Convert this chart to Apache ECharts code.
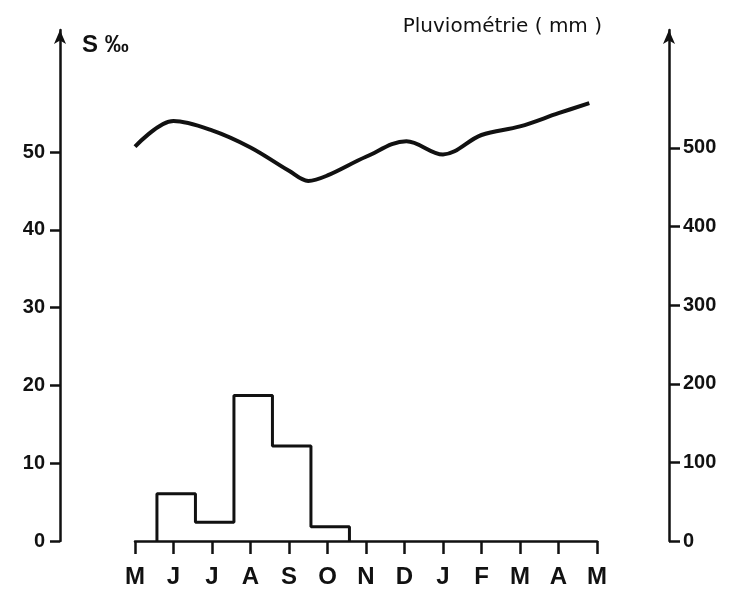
<!DOCTYPE html>
<html>
<head>
<meta charset="utf-8">
<script src="https://cdn.jsdelivr.net/npm/echarts@6/dist/echarts.min.js"></script>
<style>
  html, body { margin: 0; padding: 0; background: #fff; }
  #chart { width: 743px; height: 589px; }
</style>
</head>
<body>
<div id="chart"></div>
<script>
// month labels, one per tick (May -> May)
const months = ['M', 'J', 'J', 'A', 'S', 'O', 'N', 'D', 'J', 'F', 'M', 'A', 'M']

// salinity (S ‰), [month position, value]
const salinity = [
  [0, 50.7], [1, 54.0], [2, 52.8], [3, 50.6], [4, 47.6], [4.5, 46.3],
  [5, 47.0], [6, 49.4], [7.05, 51.4], [8, 49.7], [9, 52.2], [10, 53.3],
  [11, 55.0], [11.8, 56.3]
]

// monthly rainfall (mm), centred on the month ticks
const rainMonths = [1, 2, 3, 4, 5]
const rainValues = [60, 24, 185, 121, 18]

const leftTicks = [0, 10, 20, 30, 40, 50]
const rightTicks = [0, 100, 200, 300, 400, 500]

const INK = '#111'
const BAR_SHIFT = 0.07

// histogram outline built from the monthly totals
const rainOutline = []
rainMonths.forEach(function (m, i) {
  const c = m + BAR_SHIFT
  if (i === 0) rainOutline.push([c - 0.5, 0])
  rainOutline.push([c - 0.5, rainValues[i]])
  rainOutline.push([c + 0.5, rainValues[i]])
  if (i === rainMonths.length - 1) rainOutline.push([c + 0.5, 0])
})

const chart = echarts.init(document.getElementById('chart'), null, { renderer: 'canvas' })

const tickFont = {
  color: INK,
  fontFamily: 'Liberation Sans, Arial, sans-serif',
  fontWeight: 'bold',
  fontSize: 20
}

chart.setOption({
  animation: false,
  backgroundColor: '#fff',
  grid: { left: 135, right: 146, top: 30, bottom: 48 },
  xAxis: {
    type: 'value',
    min: 0,
    max: 12,
    interval: 1,
    splitLine: { show: false },
    axisLine: { lineStyle: { color: INK, width: 2.5 } },
    axisTick: { length: 13, lineStyle: { color: INK, width: 2.5 } },
    axisLabel: {
      margin: 24,
      color: INK,
      fontFamily: 'Liberation Sans, Arial, sans-serif',
      fontWeight: 'bold',
      fontSize: 24,
      formatter: function (v) { return months[v] }
    }
  },
  yAxis: [{
    type: 'value',
    position: 'left',
    offset: 75,
    min: 0,
    max: 65.7,
    splitLine: { show: false },
    name: 'S ‰',
    nameLocation: 'end',
    nameGap: -15,
    nameTextStyle: {
      color: INK, fontFamily: 'Liberation Sans, Arial, sans-serif', fontWeight: 'bold',
      fontSize: 24, align: 'left', verticalAlign: 'middle', padding: [0, 0, 0, 22]
    },
    axisLine: {
      show: true, onZero: false, symbol: ['none', 'arrow'], symbolSize: [9, 14],
      lineStyle: { color: INK, width: 2.5 }
    },
    axisTick: { show: true, length: 10, customValues: leftTicks, lineStyle: { color: INK, width: 2.5 } },
    axisLabel: Object.assign({ margin: 15, customValues: leftTicks }, tickFont)
  }, {
    type: 'value',
    position: 'right',
    offset: 72,
    min: 0,
    max: 650,
    splitLine: { show: false },
    name: 'Pluviométrie ( mm )',
    nameLocation: 'end',
    nameGap: 3,
    nameTextStyle: {
      color: INK, fontFamily: 'DejaVu Sans, sans-serif',
      fontSize: 20, align: 'right', verticalAlign: 'middle', padding: [0, 67, 0, 0]
    },
    axisLine: {
      show: true, onZero: false, symbol: ['none', 'arrow'], symbolSize: [9, 14],
      lineStyle: { color: INK, width: 2.5 }
    },
    axisTick: { show: true, length: 11, customValues: rightTicks, lineStyle: { color: INK, width: 2.5 } },
    axisLabel: Object.assign({ margin: 14, customValues: rightTicks }, tickFont)
  }],
  series: [{
    name: 'Pluviométrie',
    type: 'line',
    yAxisIndex: 1,
    data: rainOutline,
    symbol: 'none',
    lineStyle: { color: INK, width: 3 },
    z: 3
  }, {
    name: 'S ‰',
    type: 'line',
    yAxisIndex: 0,
    data: salinity,
    smooth: 0.35,
    symbol: 'none',
    lineStyle: { color: INK, width: 4 },
    z: 4
  }]
})
</script>
</body>
</html>
